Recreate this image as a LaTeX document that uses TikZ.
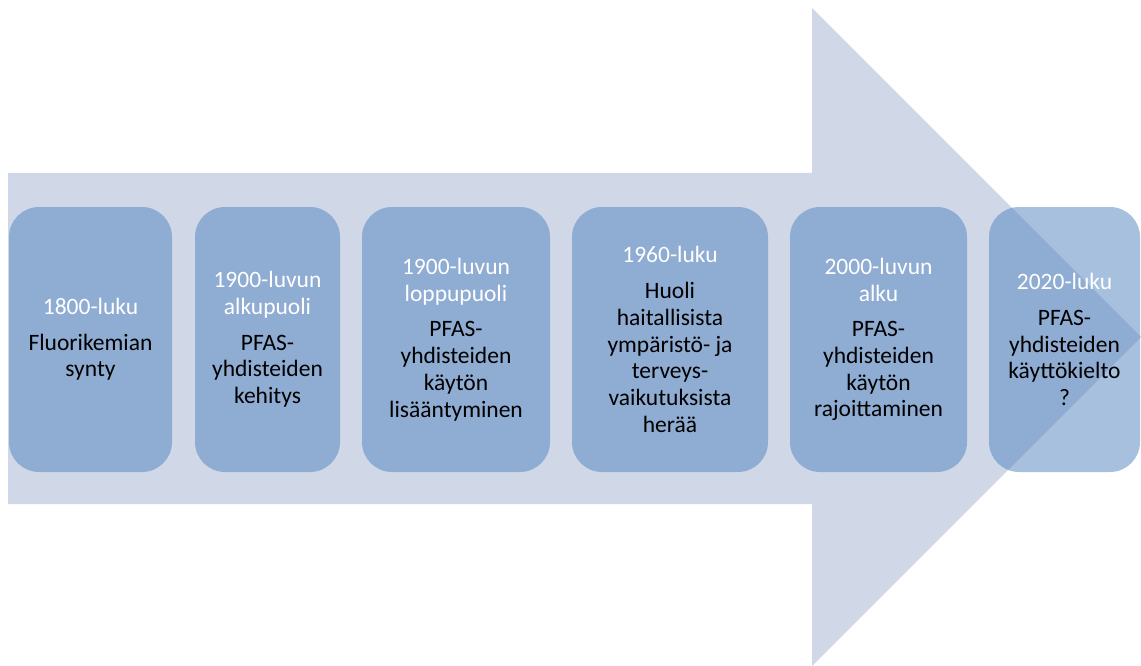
\documentclass[tikz,border=0pt]{standalone}
\usepackage{fontspec}
\setmainfont{Carlito}
\definecolor{arrowc}{HTML}{D0D8E8}
\definecolor{boxc}{HTML}{4F81BD}
\tikzset{
  phase/.style={draw=none, fill=boxc, fill opacity=0.5, text opacity=1,
    rounded corners=30pt, minimum height=265pt, inner sep=2pt, align=center,
    font=\fontsize{23.5}{26.7}\selectfont, text=black},
}
\newcommand{\yr}[1]{\textcolor{white}{#1}}
\begin{document}
\begin{tikzpicture}[x=1pt,y=-1pt]
\useasboundingbox (0,0) rectangle (1141,666);
\fill[arrowc] (8,173) -- (812,173) -- (812,8) -- (1141,337) -- (812,666) -- (812,504) -- (8,504) -- cycle;
\node[phase, minimum width=163pt] (b1) at (90.5,339.5) {\yr{1800-luku}\\[9pt]Fluorikemian\\synty};
\node[phase, minimum width=145pt] (b2) at (267.5,339.5) {\yr{1900-luvun}\\\yr{alkupuoli}\\[9pt]PFAS-\\yhdisteiden\\kehitys};
\node[phase, minimum width=188pt] (b3) at (456,339.5) {\yr{1900-luvun}\\\yr{loppupuoli}\\[9pt]PFAS-\\yhdisteiden\\käytön\\lisääntyminen};
\node[phase, minimum width=196pt] (b4) at (670,339.5) {\yr{1960-luku}\\[9pt]Huoli\\haitallisista\\ympäristö- ja\\terveys-\\vaikutuksista\\herää};
\node[phase, minimum width=177pt] (b5) at (878.5,339.5) {\yr{2000-luvun}\\\yr{alku}\\[9pt]PFAS-\\yhdisteiden\\käytön\\rajoittaminen};
\node[phase, minimum width=151pt] (b6) at (1064.5,339.5) {\yr{2020-luku}\\[9pt]PFAS-\\yhdisteiden\\käyttökielto\\?};
\end{tikzpicture}
\end{document}
